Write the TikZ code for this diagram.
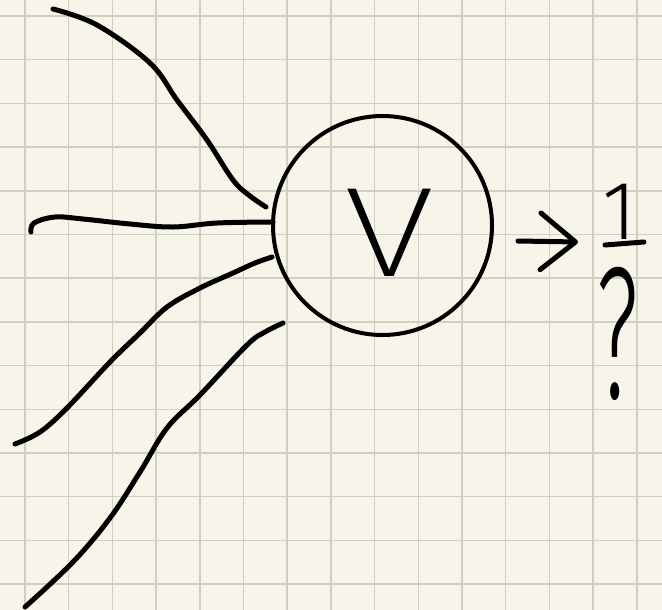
\documentclass[tikz,border=0pt]{standalone}
\usepackage{fontspec}
\newfontfamily\handfont{Fira Sans ExtraLight}
\newfontfamily\handbold{Fira Sans Light}
\usetikzlibrary{arrows.meta}
\definecolor{paper}{RGB}{247,245,233}
\definecolor{gridline}{RGB}{208,208,194}
\begin{document}
\begin{tikzpicture}[
    x=0.03cm, y=-0.03cm,
    grid_style/.style={gridline, line width=0.045cm},
    neuron_style/.style={circle, draw, line width=0.12cm, minimum size=6.57cm, inner sep=0pt},
    letter_style/.style={inner sep=0pt, font=\handfont\fontsize{109}{109}\selectfont},
    wire_style/.style={line width=0.15cm, line cap=round, line join=round},
    digit_style/.style={inner sep=0pt, font=\handbold\fontsize{71}{71}\selectfont},
    out_style/.style={wire_style, -{Straight Barb[length=1.05cm, width=1.7cm, round]}}
]
% Papier quadrille
\fill[paper] (0,0) rectangle (662,610);
\useasboundingbox (0,0) rectangle (662,610);
\foreach \i in {0,...,14} {
    \draw[grid_style] ({25+43.7*\i},0) -- ({25+43.7*\i},610);
}
\foreach \j in {0,...,13} {
    \draw[grid_style] (0,{16+43.7*\j}) -- (662,{16+43.7*\j});
}
% Neurone
\node[neuron_style] (neuron) at (382.5,225.5) {};
\node[letter_style] (letter) at ([shift={(7,7)}]neuron.center) {\scalebox{1.3}[1]{V}};
% Entrees
\coordinate (in_a) at (53,9);
\coordinate (end_a) at (266,207);
\coordinate (in_b) at (31,232);
\coordinate (end_b) at (273,222);
\coordinate (in_c) at (15,444);
\coordinate (end_c) at (272,257);
\coordinate (in_d) at (25,607);
\coordinate (end_d) at (283,323);
\draw[wire_style] plot[smooth, tension=0.6] coordinates {(in_a) (97,25) (150,63) (177,100) (207,140) (233,180) (250,196) (end_a)};
\draw[wire_style] plot[smooth, tension=0.6] coordinates {(in_b) (34,223) (55,217) (83,219) (130,224) (173,227) (217,223) (end_b)};
\draw[wire_style] plot[smooth, tension=0.6] coordinates {(end_c) (255,263) (233,273) (200,288) (167,307) (140,333) (110,362) (67,408) (40,432) (in_c)};
\draw[wire_style] plot[smooth, tension=0.6] coordinates {(end_d) (265,332) (247,345) (200,395) (167,428) (140,472) (110,518) (73,562) (in_d)};
% Sortie
\coordinate (out_start) at (518,241);
\coordinate (out_end) at (578,242);
\draw[out_style] (out_start) -- (out_end);
\node[digit_style] (one) at (620,212) {1};
\node[inner sep=0pt, font=\handbold\fontsize{161}{161}\selectfont] (quest) at (618,334) {\scalebox{0.5}[1]{?}};
\coordinate (bar_l) at (605,245);
\coordinate (bar_r) at (644,242);
\draw[wire_style] (bar_l) -- (bar_r);
\end{tikzpicture}
\end{document}
